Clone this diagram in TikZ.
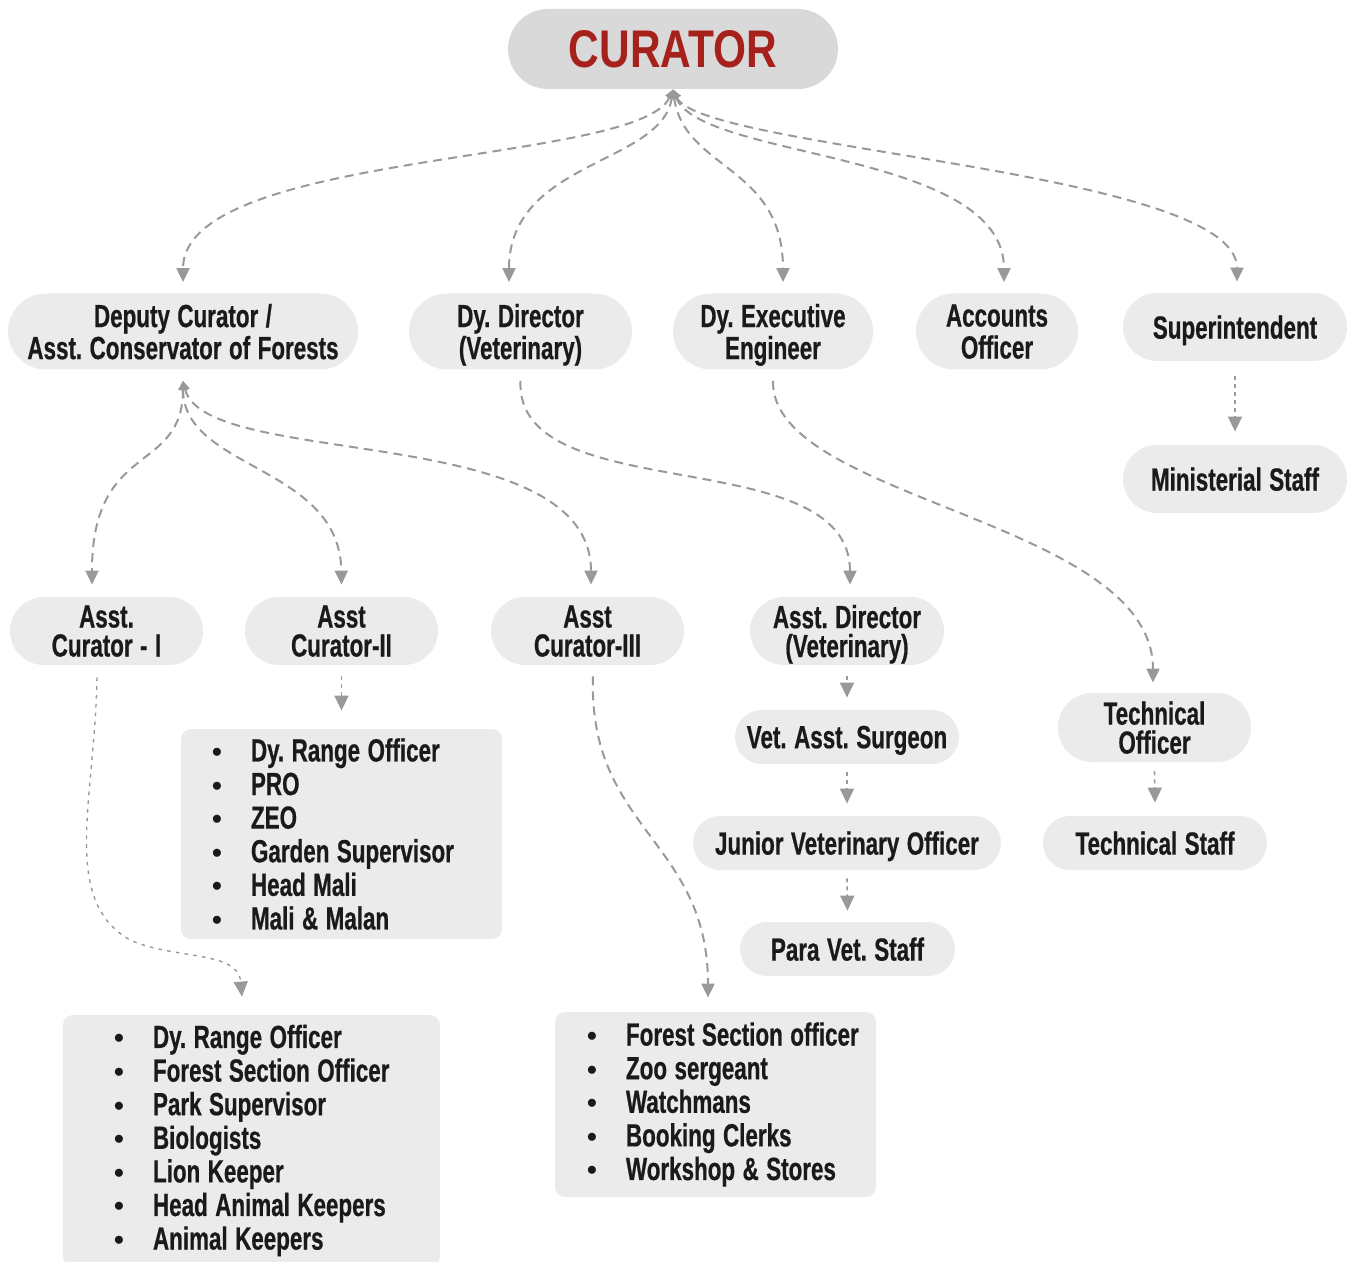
\documentclass[tikz,border=0pt]{standalone}
\usepackage{fontspec}
\newfontfamily\condfont{Liberation Sans}[FakeStretch=0.7, WordSpace=1.2, BoldFeatures={FakeBold=0.6}]
\newfontfamily\titlefont{Liberation Sans}[FakeStretch=0.8]
\newfontfamily\plainfont{Liberation Sans}
\usepackage{xcolor}
\definecolor{boxgray}{HTML}{EBEBEB}
\definecolor{topgray}{HTML}{D9D9D9}
\definecolor{linegray}{HTML}{999999}
\definecolor{inkblack}{HTML}{1A1A1A}
\definecolor{curred}{HTML}{A6211C}
\usepackage{tikz}
\usetikzlibrary{arrows.meta,positioning}
\frenchspacing
\newcommand{\bul}[1]{\mbox{\makebox[19.5pt][l]{\plainfont\fontsize{14}{14}\selectfont\textbullet}#1}}

\begin{document}
\begin{tikzpicture}[
  x=0.5pt, y=-0.5pt,
  pill/.style={fill=boxgray, text=inkblack, align=center, inner sep=0pt, text depth=0pt,
    font=\condfont\bfseries\fontsize{16}{16}\selectfont},
  tallpill/.style={pill, minimum height=38pt, rounded corners=19pt},
  midpill/.style={pill, minimum height=34pt, rounded corners=17pt,
    font=\condfont\bfseries\fontsize{16}{14.5}\selectfont},
  lowpill/.style={pill, minimum height=27pt, rounded corners=13.5pt},
  listbox/.style={fill=boxgray, text=inkblack, rounded corners=5pt, align=left,
    inner ysep=0pt, font=\condfont\bfseries\fontsize{16}{16.8}\selectfont,
    execute at begin node={\spaceskip=0pt\xspaceskip=0pt\hbadness=10000\hfuzz=50pt\relax}},
  link/.style={draw=linegray, line width=1pt, dash pattern=on 4.5pt off 3pt,
    -{Triangle[length=7pt,width=6.5pt]}},
  twoway/.style={link, {Triangle[length=4.5pt,width=4.5pt]}-{Triangle[length=7pt,width=6.5pt]}},
  hop/.style={draw=linegray, line width=0.8pt, dash pattern=on 2pt off 2pt,
    -{Triangle[length=7.5pt,width=7pt]}},
  finehop/.style={hop, line width=0.7pt, dash pattern=on 1.8pt off 2.6pt}
  ]
  \useasboundingbox (0,0) rectangle (1348,1262);

  % top
  \node[fill=topgray, minimum width=165pt, minimum height=40pt, rounded corners=20pt,
    text=curred, font=\titlefont\bfseries\fontsize{26.5}{26.5}\selectfont] (cur) at (673,49) {CURATOR};

  % second row
  \node[tallpill, minimum width=175pt] (dep) at (183,331.5) {Deputy Curator /\\Asst. Conservator of Forests};
  \node[tallpill, minimum width=111.5pt] (ddv) at (520.5,331.5) {Dy. Director\\(Veterinary)};
  \node[tallpill, minimum width=100pt] (dee) at (773,331.5) {Dy. Executive\\Engineer};
  \node[tallpill, minimum width=81pt] (acc) at (997,331.5) {Accounts\\Officer};
  \node[midpill, minimum width=112pt] (sup) at (1235,327) {Superintendent};
  \node[midpill, minimum width=112pt] (min) at (1235,479) {Ministerial Staff};

  % third row
  \node[midpill, minimum width=96.5pt] (ac1) at (106.5,631) {Asst.\\Curator - I};
  \node[midpill, minimum width=96.5pt] (ac2) at (341.5,631) {Asst\\Curator-II};
  \node[midpill, minimum width=96.5pt] (ac3) at (587.5,631) {Asst\\Curator-III};
  \node[midpill, minimum width=97pt] (adv) at (847,631) {Asst. Director\\(Veterinary)};

  % veterinary chain
  \node[lowpill, minimum width=112pt] (vas) at (847,737) {Vet. Asst. Surgeon};
  \node[lowpill, minimum width=154pt] (jvo) at (847,843) {Junior Veterinary Officer};
  \node[lowpill, minimum width=107.5pt] (pvs) at (847.5,949) {Para Vet. Staff};

  % technical chain
  \node[midpill, minimum height=34.5pt, minimum width=96.5pt] (tof) at (1154.5,727.5) {Technical\\Officer};
  \node[lowpill, minimum width=112pt] (tst) at (1155,843) {Technical Staff};

  % staff lists
  \node[listbox, minimum height=105pt, inner xsep=15.5pt, text width=129.5pt] (lst2) at (341.5,834)
    {\bul{Dy. Range Officer}\\\bul{PRO}\\\bul{ZEO}\\\bul{Garden Supervisor}\\\bul{Head Mali}\\\bul{Mali \& Malan}};
  \node[listbox, minimum height=125.5pt, inner xsep=25.5pt, text width=137.5pt] (lst1) at (251.5,1140.5)
    {\bul{Dy. Range Officer}\\\bul{Forest Section Officer}\\\bul{Park Supervisor}\\\bul{Biologists}\\\bul{Lion Keeper}\\\bul{Head Animal Keepers}\\\bul{Animal Keepers}};
  \node[listbox, minimum height=92.5pt, inner xsep=16pt, text width=128.5pt] (lst3) at (715.5,1104.5)
    {\bul{Forest Section officer}\\\bul{Zoo sergeant}\\\bul{Watchmans}\\\bul{Booking Clerks}\\\bul{Workshop \& Stores}};

  % curator links
  \draw[twoway] (cur.south) .. controls (640,165) and (183,150) .. ([yshift=5.5pt]dep.north);
  \draw[twoway] (cur.south) .. controls (662,165) and (509,160) .. ([xshift=-5.75pt,yshift=5.5pt]ddv.north);
  \draw[twoway] (cur.south) .. controls (684,170) and (783,165) .. ([xshift=5pt,yshift=5.5pt]dee.north);
  \draw[twoway] (cur.south) .. controls (700,160) and (1004,150) .. ([xshift=3.5pt,yshift=5.5pt]acc.north);
  \draw[twoway] (cur.south) .. controls (700,150) and (1237,170) .. ([xshift=1pt,yshift=5.5pt]sup.north);

  % deputy links
  \draw[twoway] ([yshift=-5.5pt]dep.south) .. controls (183,475) and (92,440) .. ([xshift=-7.25pt,yshift=6pt]ac1.north);
  \draw[twoway] ([yshift=-5.5pt]dep.south) .. controls (183,470) and (340,465) .. ([yshift=6pt]ac2.north);
  \draw[twoway] ([yshift=-5.5pt]dep.south) .. controls (205,470) and (591,420) .. ([xshift=1.75pt,yshift=6pt]ac3.north);

  % director and engineer links
  \draw[link] ([yshift=-5.5pt]ddv.south) .. controls (515,510) and (850,440) .. ([xshift=1.5pt,yshift=6pt]adv.north);
  \draw[link] ([yshift=-5.5pt]dee.south) .. controls (770,500) and (1153,520) .. ([xshift=-0.75pt,yshift=5pt]tof.north);

  % short hops
  \draw[hop] ([yshift=-7.5pt]sup.south) -- ([yshift=6.5pt]min.north);
  \draw[hop] ([yshift=-5.5pt]ac2.south) -- ([yshift=9pt]lst2.north);
  \draw[hop] ([yshift=-5.5pt]adv.south) -- ([yshift=6pt]vas.north);
  \draw[hop] ([yshift=-4pt]vas.south) -- ([yshift=6pt]jvo.north);
  \draw[hop] ([yshift=-4pt]jvo.south) -- ([yshift=5.5pt]pvs.north);
  \draw[hop] ([yshift=-4.5pt]tof.south) -- ([yshift=6.5pt]tst.north);

  % long links to the lists
  \draw[finehop] ([xshift=-4.75pt,yshift=-6pt]ac1.south) .. controls (95,800) and (60,900) .. (130,940)
    .. controls (175,960) and (238,950) .. ([xshift=-4.75pt,yshift=9pt]lst1.north);
  \draw[link] ([xshift=2.75pt,yshift=-5.5pt]ac3.south) .. controls (588,830) and (708,840) .. ([xshift=-3.75pt,yshift=7pt]lst3.north);
\end{tikzpicture}
\end{document}
